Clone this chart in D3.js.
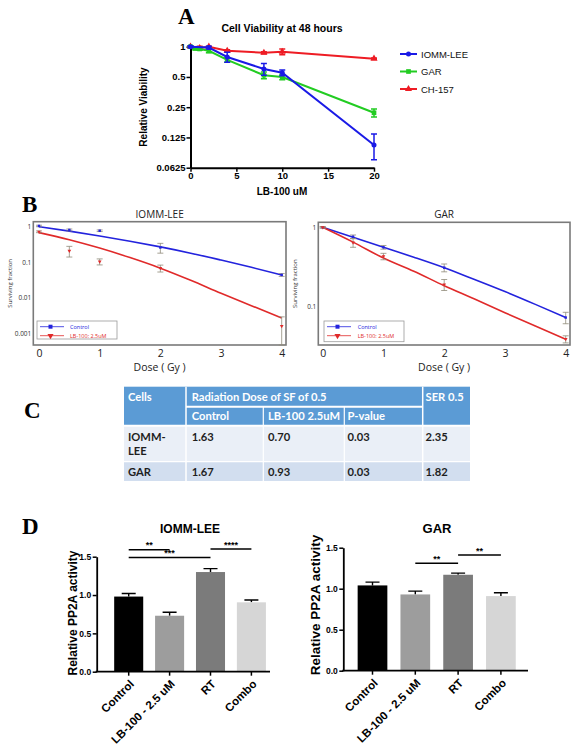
<!DOCTYPE html>
<html><head><meta charset="utf-8">
<script src="https://cdn.jsdelivr.net/npm/d3@7"></script>
<style>body{margin:0;background:#fff}</style>
</head><body><svg id="fig" width="576" height="750"></svg>
<script>
// ---------- Panel A data ----------
const aYTicks = [1, 0.5, 0.25, 0.125, 0.0625];
const aYTickLabels = ["1", "0.5", "0.25", "0.125", "0.0625"];
const aXTicks = [0, 5, 10, 15, 20];
const aSeriesNames = ["IOMM-LEE", "GAR", "CH-157"];
const iommADose = [0, 2, 4, 8, 10, 20];
const iommAViab = [1.0, 0.98, 0.79, 0.60, 0.55, 0.105];
const iommAErr  = [0.02, 0.03, 0.09, 0.08, 0.035, 0.03];
const garADose = [0, 0.5, 1, 2, 4, 8, 10, 20];
const garAViab = [1.0, 0.96, 0.95, 0.91, 0.74, 0.52, 0.50, 0.22];
const garAErr  = [0.02, 0.03, 0.03, 0.04, 0.04, 0.04, 0.03, 0.02];
const chADose = [0, 1, 2, 4, 8, 10, 20];
const chAViab = [1.0, 0.97, 1.0, 0.91, 0.87, 0.89, 0.76];
const chAErr  = [0.01, 0.04, 0.01, 0.02, 0.02, 0.06, 0.01];

// ---------- Panel B data ----------
const bDose = [0, 0.5, 1, 2, 4];
const bXTicks = [0, 1, 2, 3, 4];
const iommBTicks = [1, 0.1, 0.01, 0.001];
const garBTicks = [1, 0.1];
const iommCtrlSF = [1.05, 0.81, 0.77, 0.26, 0.044];
const iommCtrlErr = [0.05, 0.05, 0.04, 0.08, 0.004];
const iommLbSF = [0.72, 0.21, 0.104, 0.068, 0.0016];
const iommLbErr = [0.04, 0.07, 0.02, 0.015, 0.0013];
const garCtrlSF = [1.0, 0.76, 0.56, 0.31, 0.073];
const garCtrlErr = [0.02, 0.04, 0.03, 0.035, 0.012];
const garLbSF = [1.0, 0.64, 0.43, 0.19, 0.039];
const garLbErr = [0.02, 0.08, 0.04, 0.03, 0.004];
const fitDose = [0, 0.5, 1, 1.5, 2, 2.5, 3, 3.5, 4];
const iommCtrlFit = [1.0, 0.75, 0.55, 0.39, 0.27, 0.18, 0.115, 0.072, 0.044];
const iommLbFit = [0.68, 0.43, 0.25, 0.135, 0.068, 0.031, 0.0134, 0.006, 0.0027];
const garCtrlFit = [1.0, 0.75, 0.56, 0.42, 0.31, 0.22, 0.155, 0.107, 0.073];
const garLbFit = [1.0, 0.65, 0.41, 0.28, 0.184, 0.125, 0.084, 0.057, 0.039];
const bLegend = ["Control", "LB-100: 2.5uM"];

// ---------- Panel C data ----------
const tCells = [["IOMM-", "LEE"], ["GAR"]];
const tControl = ["1.63", "1.67"];
const tLB = ["0.70", "0.93"];
const tP = ["0.03", "0.03"];
const tSER = ["2.35", "1.82"];

// ---------- Panel D data ----------
const dCategories = ["Control", "LB-100 - 2.5 uM", "RT", "Combo"];
const dYTicks = [0, 0.5, 1.0, 1.5];
const iommPP2A = [0.98, 0.73, 1.30, 0.905];
const iommPP2AErr = [0.04, 0.045, 0.045, 0.03];
const garPP2A = [1.04, 0.93, 1.17, 0.91];
const garPP2AErr = [0.04, 0.04, 0.02, 0.04];
const iommSig = [["**", 0, 1, 1.59], ["***", 0, 2, 1.49], ["****", 2, 3, 1.60]];
const garSig = [["**", 1, 2, 1.31], ["**", 2, 3, 1.41]];

const svg = d3.select("#fig");
svg.append("rect").attr("width", 576).attr("height", 750).attr("fill", "#fff");
const SANS = "Liberation Sans, Arial, sans-serif";

function panelLabel(t, x, y) {
  svg.append("text").attr("x", x).attr("y", y).text(t)
    .attr("font-family", "Liberation Serif, Times New Roman, serif")
    .attr("font-weight", "bold").attr("font-size", 23).attr("fill", "#000");
}
panelLabel("A", 178, 24);
panelLabel("B", 22, 212);
panelLabel("C", 24, 418);
panelLabel("D", 22, 534);

// ================= Panel A =================
(function () {
  const ax = d3.scaleLinear().domain([0, 20]).range([190.5, 374]);
  const ay = d3.scaleLog().base(2).domain([0.0625, 1]).range([167.7, 46.7]);
  const g = svg.append("g");
  const xa = g.append("g").attr("transform", "translate(0,167.7)")
    .call(d3.axisBottom(ax).tickValues(aXTicks).tickSize(4).tickSizeOuter(0).tickPadding(1));
  const ya = g.append("g").attr("transform", "translate(190.5,0)")
    .call(d3.axisLeft(ay).tickValues(aYTicks).tickFormat((d, i) => aYTickLabels[i]).tickSize(4).tickSizeOuter(0).tickPadding(1));
  [xa, ya].forEach(a => {
    a.select(".domain").attr("stroke", "#000").attr("stroke-width", 2);
    a.selectAll(".tick line").attr("stroke", "#000").attr("stroke-width", 1.5);
    a.selectAll(".tick text").attr("font-family", SANS).attr("font-weight", "bold").attr("font-size", 9.5).attr("fill", "#000");
  });
  g.append("text").attr("x", 282).attr("y", 32).attr("text-anchor", "middle")
    .attr("font-family", SANS).attr("font-weight", "bold").attr("font-size", 10.5).text("Cell Viability at 48 hours");
  g.append("text").attr("transform", "translate(146.5,107) rotate(-90)").attr("text-anchor", "middle")
    .attr("font-family", SANS).attr("font-weight", "bold").attr("font-size", 10).text("Relative Viability");
  g.append("text").attr("x", 282).attr("y", 195).attr("text-anchor", "middle")
    .attr("font-family", SANS).attr("font-weight", "bold").attr("font-size", 10).text("LB-100 uM");

  const series = [
    { dose: chADose, v: chAViab, e: chAErr, color: "#ee1c24", sym: d3.symbolTriangle, size: 22 },
    { dose: garADose, v: garAViab, e: garAErr, color: "#22cc22", sym: d3.symbolSquare, size: 22 },
    { dose: iommADose, v: iommAViab, e: iommAErr, color: "#1a1ae6", sym: d3.symbolCircle, size: 20 }
  ];
  const line = d3.line().x(d => ax(d[0])).y(d => ay(d[1]));
  series.forEach(s => {
    const pts = s.dose.map((d, i) => [d, s.v[i], s.e[i]]);
    g.append("path").attr("d", line(pts)).attr("fill", "none").attr("stroke", s.color).attr("stroke-width", 2);
    pts.forEach(p => {
      const x = ax(p[0]), y1 = ay(p[1] + p[2]), y2 = ay(Math.max(p[1] - p[2], 0.01));
      g.append("path").attr("d", `M${x},${y1}V${y2}M${x - 3},${y1}h6M${x - 3},${y2}h6`)
        .attr("stroke", s.color).attr("stroke-width", 1.5).attr("fill", "none");
      g.append("path").attr("d", d3.symbol(s.sym, s.size)()).attr("transform", `translate(${x},${ay(p[1])})`).attr("fill", s.color);
    });
  });
  // legend
  const leg = [series[2], series[1], series[0]];
  leg.forEach((s, i) => {
    const y = 54 + i * 17.5;
    g.append("line").attr("x1", 400).attr("x2", 417).attr("y1", y).attr("y2", y).attr("stroke", s.color).attr("stroke-width", 2);
    g.append("path").attr("d", d3.symbol(s.sym, s.size)()).attr("transform", `translate(408.5,${y})`).attr("fill", s.color);
    g.append("text").attr("x", 421).attr("y", y + 3.5).attr("font-family", SANS).attr("font-size", 9.5).attr("fill", "#111").text(aSeriesNames[i]);
  });
})();

// ================= Panel B =================
function survivalPanel(cfg) {
  const g = svg.append("g");
  const x = d3.scaleLinear().domain([0, 4]).range([cfg.x0, cfg.x4]);
  const y = d3.scaleLog().domain(cfg.yDom).range(cfg.yRange);
  const BF = "Open Sans, DejaVu Sans, sans-serif";
  g.append("rect").attr("x", cfg.fx0).attr("y", cfg.fy0).attr("width", cfg.fx1 - cfg.fx0).attr("height", cfg.fy1 - cfg.fy0)
    .attr("fill", "none").attr("stroke", "#7a7a7a").attr("stroke-width", 1.6);
  const xa = g.append("g").attr("transform", `translate(0,${cfg.fy1})`)
    .call(d3.axisBottom(x).tickValues(bXTicks).tickFormat(d3.format("d")).tickSize(0).tickPadding(5));
  xa.select(".domain").remove();
  xa.selectAll("text").attr("font-family", BF).attr("font-size", 10.5).attr("fill", "#222");
  const ya = g.append("g").attr("transform", `translate(${cfg.fx0},0)`)
    .call(d3.axisLeft(y).tickValues(cfg.yTicks).tickFormat(d => d >= 1 ? "1" : String(d)).tickSize(0).tickPadding(2));
  ya.select(".domain").remove();
  ya.selectAll("text").attr("font-family", BF).attr("font-size", 6.5).attr("fill", "#333");
  g.append("text").attr("x", (cfg.fx0 + cfg.fx1) / 2).attr("y", cfg.fy1 + 26).attr("text-anchor", "middle")
    .attr("font-family", BF).attr("font-size", 10.5).attr("fill", "#222").text("Dose ( Gy )");
  g.append("text").attr("x", (cfg.fx0 + cfg.fx1) / 2).attr("y", 218).attr("text-anchor", "middle")
    .attr("font-family", BF).attr("font-size", 10).attr("fill", "#222").text(cfg.title);
  g.append("text").attr("transform", `translate(${cfg.ylx},${(cfg.fy0 + cfg.fy1) / 2}) rotate(-90)`).attr("text-anchor", "middle")
    .attr("font-family", BF).attr("font-size", 6).attr("fill", "#333").text("Surviving fraction");

  const line = d3.line().x(d => x(d[0])).y(d => y(d[1])).curve(d3.curveMonotoneX);
  const sets = [
    { fit: cfg.ctrlFit, pts: cfg.ctrl, err: cfg.ctrlErr, color: "#2323dd", sym: d3.symbolSquare },
    { fit: cfg.lbFit, pts: cfg.lb, err: cfg.lbErr, color: "#e02a2a", sym: d3.symbolTriangle }
  ];
  sets.forEach(s => {
    g.append("path").attr("d", line(fitDose.map((d, i) => [d, s.fit[i]]))).attr("fill", "none").attr("stroke", s.color).attr("stroke-width", 1.6);
  });
  sets.forEach(s => {
    bDose.forEach((d, i) => {
      const cx = x(d), v = s.pts[i], e = s.err[i];
      const yTop = y(v + e), yBot = Math.min(y(Math.max(v - e, 1e-5)), cfg.fy1);
      g.append("path").attr("d", `M${cx},${yTop}V${yBot}M${cx - 3},${yTop}h6M${cx - 3},${yBot}h6`)
        .attr("stroke", "#8f8a78").attr("stroke-width", 0.8).attr("fill", "none");
      g.append("path").attr("d", d3.symbol(s.sym, 6)()).attr("transform", `translate(${cx},${y(v)})` + (s.sym === d3.symbolTriangle ? " rotate(180)" : ""))
        .attr("fill", s.color);
    });
  });
  // legend
  const lx = cfg.legX, ly = 321;
  g.append("rect").attr("x", lx).attr("y", ly).attr("width", 80).attr("height", cfg.legH).attr("fill", "#fff").attr("stroke", "#9a9a9a").attr("stroke-width", 0.8);
  sets.forEach((s, i) => {
    const yy = 326.7 + i * 9;
    g.append("line").attr("x1", lx + 3).attr("x2", lx + 27).attr("y1", yy).attr("y2", yy).attr("stroke", s.color).attr("stroke-width", 0.8);
    g.append("path").attr("d", d3.symbol(s.sym, 16)()).attr("transform", `translate(${lx + 13.5},${yy})` + (i === 1 ? " rotate(180)" : "")).attr("fill", s.color);
    g.append("text").attr("x", lx + cfg.legTx).attr("y", yy + 2).attr("font-family", BF).attr("font-size", 5.5).attr("fill", s.color).text(bLegend[i]);
  });
}
survivalPanel({
  title: "IOMM-LEE", x0: 39, x4: 281.7, yDom: [0.001, 1], yRange: [333.3, 226.7], yTicks: iommBTicks,
  fx0: 33.3, fx1: 286, fy0: 221.7, fy1: 345, ylx: 12,
  ctrl: iommCtrlSF, ctrlErr: iommCtrlErr, lb: iommLbSF, lbErr: iommLbErr, ctrlFit: iommCtrlFit, lbFit: iommLbFit,
  legX: 37, legH: 18, legTx: 33
});
survivalPanel({
  title: "GAR", x0: 322.7, x4: 565.7, yDom: [0.1, 1], yRange: [306.7, 227.3], yTicks: garBTicks,
  fx0: 318.3, fx1: 570, fy0: 222.3, fy1: 345, ylx: 297,
  ctrl: garCtrlSF, ctrlErr: garCtrlErr, lb: garLbSF, lbErr: garLbErr, ctrlFit: garCtrlFit, lbFit: garLbFit,
  legX: 324, legH: 20.7, legTx: 33.7
});

// ================= Panel C =================
(function () {
  const g = svg.append("g");
  const TF = "Lato, Open Sans, sans-serif";
  const colX = [124, 186, 263.3, 344.3, 422.7, 470];
  const rowY = [386.7, 406.7, 425.7, 461.7, 481];
  const blue = "#5b9bd5";
  g.append("rect").attr("x", colX[0]).attr("y", rowY[0]).attr("width", colX[5] - colX[0]).attr("height", rowY[2] - rowY[0]).attr("fill", blue);
  g.append("rect").attr("x", colX[0]).attr("y", rowY[2]).attr("width", colX[5] - colX[0]).attr("height", rowY[3] - rowY[2]).attr("fill", "#eaeff7");
  g.append("rect").attr("x", colX[0]).attr("y", rowY[3]).attr("width", colX[5] - colX[0]).attr("height", rowY[4] - rowY[3]).attr("fill", "#d2deef");
  const W = "#fff";
  const wl = (x1, y1, x2, y2, w) => g.append("line").attr("x1", x1).attr("y1", y1).attr("x2", x2).attr("y2", y2).attr("stroke", W).attr("stroke-width", w);
  wl(colX[1], rowY[0], colX[1], rowY[4], 1.5);
  wl(colX[4], rowY[0], colX[4], rowY[4], 1.5);
  wl(colX[2], rowY[1], colX[2], rowY[4], 1.2);
  wl(colX[3], rowY[1], colX[3], rowY[4], 1.2);
  wl(colX[1], rowY[1], colX[4], rowY[1], 2);
  wl(colX[0], rowY[2], colX[5], rowY[2], 2);
  wl(colX[0], rowY[3], colX[5], rowY[3], 1.2);
  const txt = (x, y, t, fill) => g.append("text").attr("x", x).attr("y", y).attr("font-family", TF).attr("font-weight", "bold")
    .attr("font-size", 11.2).attr("fill", fill).text(t);
  txt(128, 401, "Cells", W);
  txt(191.7, 401, "Radiation Dose of SF of 0.5", W);
  txt(425.5, 401, "SER 0.5", W);
  txt(191.7, 420, "Control", W);
  txt(268, 420, "LB-100 2.5uM", W);
  txt(347.5, 420, "P-value", W);
  const rowBase = [441, 475.5];
  tCells.forEach((c, r) => {
    c.forEach((s, k) => txt(128, rowBase[r] + k * 13.5, s, "#1e1e1e"));
    txt(191.7, rowBase[r], tControl[r], "#1e1e1e");
    txt(268, rowBase[r], tLB[r], "#1e1e1e");
    txt(347.5, rowBase[r], tP[r], "#1e1e1e");
    txt(425.5, rowBase[r], tSER[r], "#1e1e1e");
  });
})();

// ================= Panel D =================
const barColors = ["#000000", "#9d9d9d", "#7b7b7b", "#d6d6d6"];
function barPanel(cfg) {
  const g = svg.append("g");
  const x = d3.scaleBand().domain(dCategories).range(cfg.xr).paddingInner(cfg.pad).paddingOuter(cfg.pad / 2);
  const y = d3.scaleLinear().domain([0, 1.5]).range(cfg.yr);
  // bars
  dCategories.forEach((c, i) => {
    const v = cfg.vals[i], e = cfg.errs[i];
    const cx = x(c) + x.bandwidth() / 2;
    g.append("path").attr("d", `M${cx},${y(v)}V${y(v + e)}M${cx - 7},${y(v + e)}h14`).attr("stroke", "#000").attr("stroke-width", 1.4).attr("fill", "none");
    g.append("rect").attr("x", x(c)).attr("y", y(v)).attr("width", x.bandwidth()).attr("height", y(0) - y(v)).attr("fill", barColors[i]);
  });
  const ya = g.append("g").attr("transform", `translate(${cfg.axX},0)`)
    .call(d3.axisLeft(y).tickValues(dYTicks).tickFormat(d3.format(".1f")).tickSize(4).tickSizeOuter(0).tickPadding(1.5));
  ya.select(".domain").attr("stroke", "#000").attr("stroke-width", 1.8);
  ya.selectAll(".tick line").attr("stroke", "#000").attr("stroke-width", 1.5);
  ya.selectAll(".tick text").attr("font-family", SANS).attr("font-weight", "bold").attr("font-size", 8.5).attr("fill", "#000");
  g.append("line").attr("x1", cfg.axX - 1).attr("x2", cfg.axEnd).attr("y1", y(0)).attr("y2", y(0)).attr("stroke", "#000").attr("stroke-width", 1.8);
  dCategories.forEach(c => {
    const cx = x(c) + x.bandwidth() / 2;
    g.append("line").attr("x1", cx).attr("x2", cx).attr("y1", y(0)).attr("y2", y(0) + 4).attr("stroke", "#000").attr("stroke-width", 1.5);
    g.append("text").attr("transform", `translate(${cx + 6},${y(0) + 13}) rotate(-45)`).attr("text-anchor", "end")
      .attr("font-family", SANS).attr("font-weight", "bold").attr("font-size", 11.5).attr("fill", "#000").text(c);
  });
  cfg.sig.forEach(s => {
    const x1 = x(dCategories[s[1]]) + x.bandwidth() / 2, x2 = x(dCategories[s[2]]) + x.bandwidth() / 2;
    g.append("line").attr("x1", x1).attr("x2", x2).attr("y1", y(s[3])).attr("y2", y(s[3])).attr("stroke", "#000").attr("stroke-width", 1.5);
    g.append("text").attr("x", (x1 + x2) / 2).attr("y", y(s[3]) - 1.5).attr("text-anchor", "middle")
      .attr("font-family", SANS).attr("font-weight", "bold").attr("font-size", 9).text(s[0]);
  });
  g.append("text").attr("x", cfg.titleX).attr("y", 532.7).attr("text-anchor", "middle")
    .attr("font-family", SANS).attr("font-weight", "bold").attr("font-size", cfg.titleSize).text(cfg.title);
  g.append("text").attr("transform", `translate(${cfg.ylX},${cfg.ylY}) rotate(-90)`).attr("text-anchor", "middle")
    .attr("font-family", SANS).attr("font-weight", "bold").attr("font-size", cfg.ylSize).text("Relative PP2A activity");
}
barPanel({ title: "IOMM-LEE", titleX: 190, titleSize: 12, xr: [108.25, 271.85], pad: 0.29, yr: [671.7, 556.7], axX: 96.7, axEnd: 270,
  vals: iommPP2A, errs: iommPP2AErr, sig: iommSig, ylX: 77, ylY: 613, ylSize: 12 });
barPanel({ title: "GAR", titleX: 437, titleSize: 13, xr: [351.1, 522.3], pad: 0.306, yr: [670.7, 547.7], axX: 343.3, axEnd: 528,
  vals: garPP2A, errs: garPP2AErr, sig: garSig, ylX: 319.5, ylY: 605, ylSize: 13.5 });
</script>
</body></html>
